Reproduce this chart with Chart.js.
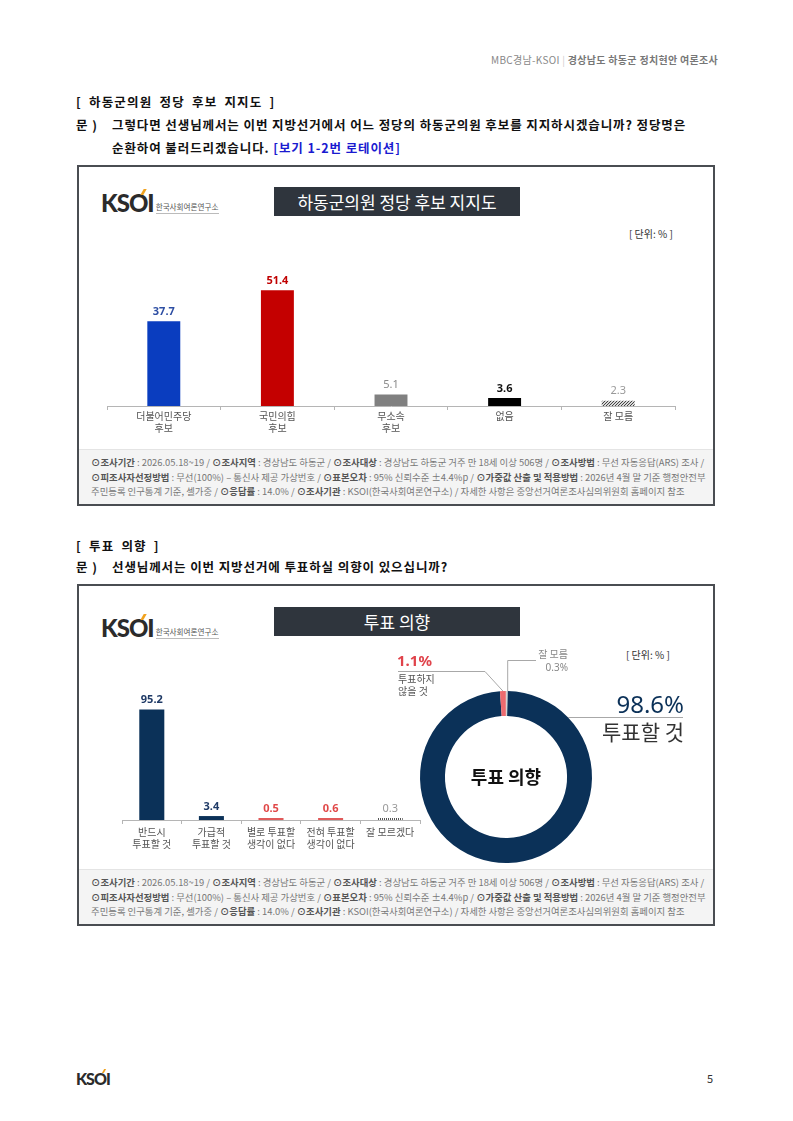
<!DOCTYPE html>
<html>
<head>
<meta charset="utf-8">
<script src="https://cdn.jsdelivr.net/npm/chart.js@4.4.1/dist/chart.umd.min.js"></script>
<style>
  body { margin: 0; background: #fff; font-family: "Noto Sans CJK KR", "Noto Sans", sans-serif; }
  #page { position: relative; width: 793px; height: 1121px; overflow: hidden; }
  .abs { position: absolute; white-space: nowrap; }
  .hdr { right: 75px; top: 52px; font-size: 10px; letter-spacing: 0.3px; color: #888; }
  .hdr b { color: #777; font-weight: 700; }
  .sec { left: 76px; font-size: 12.5px; font-weight: 700; color: #111; letter-spacing: 1.2px; word-spacing: 3px; }
  .q { font-size: 12.5px; font-weight: 700; color: #111; letter-spacing: 0.9px; }
  .blue { color: #1a1ad0; }
  .box { position: absolute; left: 77px; width: 634px; border: 2px solid #4a4d52; background: #fff; }
  .ttl { position: absolute; left: 195px; width: 246px; height: 29px; background: #2f353d; color: #fff;
         font-size: 17px; line-height: 29px; text-align: center; }
  .unit { position: absolute; font-size: 10px; color: #333; }
  .foot { position: absolute; left: 0; right: 0; bottom: 0; height: 55px; background: #f4f4f4;
          border-top: 1px solid #e4e4e4; font-size: 9.4px; color: #777; line-height: 14.5px; padding: 5px 0 0 12px; box-sizing: border-box; }
  .foot b { color: #555; }
  .logo { position: absolute; }
  .logo .k { font-family: Lato, "Noto Sans", sans-serif; font-weight: 900; color: #2b2b2b; letter-spacing: -1px; position: relative; }
  .logo .acc { position: absolute; background: #f1a21e; transform: skewX(-30deg); }
  .logo .t { font-size: 7.6px; color: #555; border-bottom: 1.5px solid #bbb; padding-bottom: 1px; margin-left: 2px; vertical-align: 2px; }
  canvas { position: absolute; }
</style>
</head>
<body>
<div id="page">
  <div class="abs hdr">MBC경남-KSOI <span style="color:#ccc">|</span> <b>경상남도 하동군 정치현안 여론조사</b></div>

  <div class="abs sec" style="top:92px">[ 하동군의원 정당 후보 지지도 ]</div>
  <div class="abs q" style="left:76px;top:115px">문 )</div>
  <div class="abs q" style="left:112px;top:115px">그렇다면 선생님께서는 이번 지방선거에서 어느 정당의 하동군의원 후보를 지지하시겠습니까? 정당명은</div>
  <div class="abs q" style="left:112px;top:138px">순환하여 불러드리겠습니다. <span class="blue">[보기 1-2번 로테이션]</span></div>

  <div class="box" style="top:165px;height:337px">
    <div class="logo" style="left:22px;top:21px"><span class="k" style="font-size:24px">KSOI<span class="acc" style="left:41px;top:1px;width:3px;height:6px"></span></span><span class="t">한국사회여론연구소</span></div>
    <div class="ttl" style="top:20px">하동군의원 정당 후보 지지도</div>
    <div class="unit" style="left:550px;top:59px">[ 단위: % ]</div>
    <div class="foot">
      <b>⊙조사기간</b> : 2026.05.18~19 / <b>⊙조사지역</b> : 경상남도 하동군 / <b>⊙조사대상</b> : 경상남도 하동군 거주 만 18세 이상 506명 / <b>⊙조사방법</b> : 무선 자동응답(ARS) 조사 /<br>
      <b>⊙피조사자선정방법</b> : 무선(100%) – 통신사 제공 가상번호 / <b>⊙표본오차</b> : 95% 신뢰수준 ±4.4%p / <b>⊙가중값 산출 및 적용방법</b> : 2026년 4월 말 기준 행정안전부<br>
      주민등록 인구통계 기준, 셀가중 / <b>⊙응답률</b> : 14.0% / <b>⊙조사기관</b> : KSOI(한국사회여론연구소) / 자세한 사항은 중앙선거여론조사심의위원회 홈페이지 참조
    </div>
  </div>

  <div class="abs sec" style="top:536px">[ 투표 의향 ]</div>
  <div class="abs q" style="left:76px;top:557px">문 )</div>
  <div class="abs q" style="left:112px;top:557px">선생님께서는 이번 지방선거에 투표하실 의향이 있으십니까?</div>

  <div class="box" style="top:584px;height:338px">
    <div class="logo" style="left:22px;top:27px"><span class="k" style="font-size:24px">KSOI<span class="acc" style="left:41px;top:1px;width:3px;height:6px"></span></span><span class="t">한국사회여론연구소</span></div>
    <div class="ttl" style="top:21px">투표 의향</div>
    <div class="unit" style="left:547px;top:61px">[ 단위: % ]</div>
    <div class="foot">
      <b>⊙조사기간</b> : 2026.05.18~19 / <b>⊙조사지역</b> : 경상남도 하동군 / <b>⊙조사대상</b> : 경상남도 하동군 거주 만 18세 이상 506명 / <b>⊙조사방법</b> : 무선 자동응답(ARS) 조사 /<br>
      <b>⊙피조사자선정방법</b> : 무선(100%) – 통신사 제공 가상번호 / <b>⊙표본오차</b> : 95% 신뢰수준 ±4.4%p / <b>⊙가중값 산출 및 적용방법</b> : 2026년 4월 말 기준 행정안전부<br>
      주민등록 인구통계 기준, 셀가중 / <b>⊙응답률</b> : 14.0% / <b>⊙조사기관</b> : KSOI(한국사회여론연구소) / 자세한 사항은 중앙선거여론조사심의위원회 홈페이지 참조
    </div>
  </div>

  <canvas id="partyChart" width="590" height="210" style="left:100px;top:240px"></canvas>
  <canvas id="intentChart" width="320" height="190" style="left:110px;top:670px"></canvas>
  <canvas id="summaryChart" width="330" height="250" style="left:380px;top:640px"></canvas>

  <div class="logo" style="left:76px;top:1066px"><span class="k" style="font-size:16px">KSOI<span class="acc" style="left:27px;top:0px;width:2px;height:4px"></span></span></div>
  <div class="abs" style="left:707px;top:1070px;font-size:11px;color:#333">5</div>
</div>

<script>
const partyLabels = [['더불어민주당', '후보'], ['국민의힘', '후보'], ['무소속', '후보'], '없음', '잘 모름'];
const partyValues = [37.7, 51.4, 5.1, 3.6, 2.3];

const intentLabels = [['반드시', '투표할 것'], ['가급적', '투표할 것'], ['별로 투표할', '생각이 없다'], ['전혀 투표할', '생각이 없다'], '잘 모르겠다'];
const intentValues = [95.2, 3.4, 0.5, 0.6, 0.3];

const summaryLabels = ['투표할 것', '투표하지 않을 것', '잘 모름'];
const summaryValues = [98.6, 1.1, 0.3];

const FONT = '"Noto Sans CJK KR", "Noto Sans", sans-serif';

function pattern(fg, bg, kind) {
  const c = document.createElement('canvas');
  c.width = kind === 'hatch' ? 3 : 2;
  c.height = kind === 'hatch' ? 3 : 1;
  const x = c.getContext('2d');
  x.fillStyle = bg; x.fillRect(0, 0, c.width, c.height);
  x.fillStyle = fg;
  if (kind === 'hatch') { x.fillRect(0, 2, 1, 1); x.fillRect(1, 1, 1, 1); x.fillRect(2, 0, 1, 1); }
  else { x.fillRect(0, 0, 1, 1); }
  return x.createPattern(c, 'repeat');
}

// numbers above the bars
const valueLabels = {
  id: 'valueLabels',
  afterDatasetsDraw(chart, args, opts) {
    const ctx = chart.ctx;
    const data = chart.data.datasets[0].data;
    ctx.save();
    ctx.textAlign = 'center';
    ctx.textBaseline = 'bottom';
    chart.getDatasetMeta(0).data.forEach((bar, i) => {
      ctx.fillStyle = opts.colors[i];
      ctx.font = (opts.bold[i] ? 'bold ' : '') + opts.size + 'px "Noto Sans", sans-serif';
      ctx.fillText(data[i].toFixed(1), bar.x, bar.y - opts.offset);
    });
    ctx.restore();
  }
};

function barOptions(max, pad, axisH, labelPad) {
  return {
    responsive: false,
    animation: false,
    layout: { padding: pad },
    plugins: { legend: { display: false }, tooltip: { enabled: false } },
    scales: {
      x: {
        grid: { drawOnChartArea: false, tickLength: 4, color: '#b5b5b5' },
        border: { color: '#b5b5b5' },
        ticks: { color: '#555', font: { size: 10, family: FONT }, padding: labelPad, maxRotation: 0, autoSkip: false },
        afterFit(s) { s.height = axisH; }
      },
      y: { display: false, min: 0, max: max }
    }
  };
}

const partyOpts = barOptions(60, { left: 7, right: 15, top: 31 }, 44, 0);
partyOpts.plugins.valueLabels = {
  colors: ['#2d4ea3', '#c00000', '#8a8a8a', '#111', '#999'],
  bold: [true, true, false, true, false],
  size: 11, offset: 4
};
new Chart(document.getElementById('partyChart'), {
  type: 'bar',
  data: {
    labels: partyLabels,
    datasets: [{
      data: partyValues,
      backgroundColor: ['#0a3dbf', '#c40000', '#808080', '#000000', pattern('#444', '#d8d8d8', 'hatch')],
      barPercentage: 0.29,
      categoryPercentage: 1
    }]
  },
  options: partyOpts,
  plugins: [valueLabels]
});

const intentOpts = barOptions(100, { left: 12, right: 10, top: 34 }, 40, 2);
intentOpts.plugins.valueLabels = {
  colors: ['#1f3a66', '#1f3a66', '#e04848', '#e04848', '#999'],
  bold: [true, true, true, true, false],
  size: 11, offset: 4
};
new Chart(document.getElementById('intentChart'), {
  type: 'bar',
  data: {
    labels: intentLabels,
    datasets: [{
      data: intentValues,
      backgroundColor: ['#0b3158', '#0b3158', '#e05a5a', '#e05a5a', pattern('#555', '#fff', 'dot')],
      barPercentage: 0.42,
      categoryPercentage: 1,
      minBarLength: 2
    }]
  },
  options: intentOpts,
  plugins: [valueLabels]
});

// leader lines and captions round the doughnut
const donutNotes = {
  id: 'donutNotes',
  afterDraw(chart) {
    const ctx = chart.ctx;
    const arcs = chart.getDatasetMeta(0).data;
    const cx = arcs[0].x, cy = arcs[0].y, r = arcs[0].outerRadius;
    const at = (arc) => {
      const a = (arc.startAngle + arc.endAngle) / 2;
      return [cx + Math.cos(a) * r, cy + Math.sin(a) * r];
    };
    ctx.save();
    ctx.strokeStyle = '#a8a8a8';
    ctx.lineWidth = 1;

    let [x, y] = at(arcs[1]);
    ctx.beginPath(); ctx.moveTo(18, 31.5); ctx.lineTo(105, 31.5); ctx.lineTo(x, y); ctx.stroke();

    [x, y] = at(arcs[2]);
    ctx.beginPath(); ctx.moveTo(x + 1, y); ctx.lineTo(x + 1, 20.5); ctx.lineTo(156, 20.5); ctx.stroke();

    const ly = 77.5;
    const dx = Math.sqrt(r * r - (cy - ly) * (cy - ly));
    ctx.beginPath(); ctx.moveTo(cx + dx, ly); ctx.lineTo(303, ly); ctx.stroke();

    ctx.textBaseline = 'middle';
    ctx.textAlign = 'left';
    ctx.fillStyle = '#e0434b';
    ctx.font = 'bold 15px "Noto Sans", sans-serif';
    ctx.fillText(summaryValues[1] + '%', 17, 22);
    ctx.fillStyle = '#555';
    ctx.font = '10px ' + FONT;
    ctx.fillText('투표하지', 18, 39);
    ctx.fillText('않을 것', 18, 51);

    ctx.textAlign = 'right';
    ctx.fillStyle = '#888';
    ctx.fillText(summaryLabels[2], 188, 14);
    ctx.font = '10px "Noto Sans", sans-serif';
    ctx.fillText(summaryValues[2] + '%', 188, 28);

    ctx.fillStyle = '#0b3158';
    ctx.font = '24px "Noto Sans", sans-serif';
    ctx.fillText(summaryValues[0] + '%', 304, 66);
    ctx.fillStyle = '#333';
    ctx.font = '21px ' + FONT;
    ctx.fillText(summaryLabels[0], 304, 92);

    ctx.textAlign = 'center';
    ctx.fillStyle = '#111';
    ctx.font = 'bold 18px ' + FONT;
    ctx.fillText('투표 의향', cx, cy);
    ctx.restore();
  }
};

new Chart(document.getElementById('summaryChart'), {
  type: 'doughnut',
  data: {
    labels: summaryLabels,
    datasets: [{
      data: summaryValues,
      backgroundColor: ['#0b3158', '#ec6b6f', '#d4d4d4'],
      borderWidth: 0
    }]
  },
  options: {
    responsive: false,
    animation: false,
    rotation: 1,
    cutout: '71%',
    layout: { padding: { left: 40, top: 51, right: 118, bottom: 27 } },
    plugins: { legend: { display: false }, tooltip: { enabled: false } }
  },
  plugins: [donutNotes]
});
</script>
</body>
</html>
